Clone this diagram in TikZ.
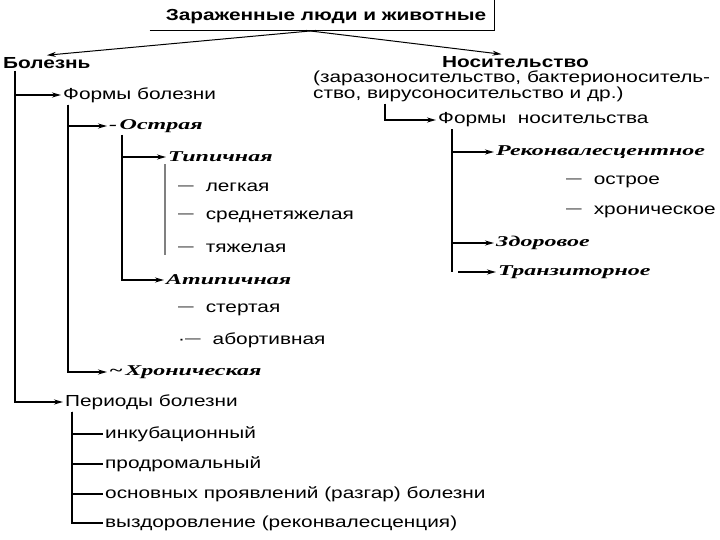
\documentclass[tikz,border=0pt]{standalone}
\usepackage{fontspec}
\setmainfont{Liberation Sans}[FakeStretch=1.3]
\newfontfamily\kursiv{Liberation Serif}[FakeStretch=1.6]
\usetikzlibrary{arrows.meta, positioning}
\newcommand\dsh{\raisebox{1.8pt}{\fontsize{12}{12}\selectfont —}\hspace{12pt}}

\begin{document}
\begin{tikzpicture}[
    x=1pt, y=-1pt, >={Stealth[length=9pt, width=5pt]},
    lbl/.style={anchor=west, inner sep=2pt, font=\fontsize{16}{16}\selectfont},
    head/.style={lbl, font=\fontsize{16}{16}\selectfont\bfseries},
    form/.style={lbl, font=\fontsize{15}{16}\selectfont\kursiv\bfseries\itshape},
    spine/.style={line width=1.5pt},
    arr/.style={spine, ->}
  ]
  \useasboundingbox (0,0) rectangle (720,540);

  \node[head, anchor=center, inner xsep=8pt, inner ysep=6pt] (title) at (326,17)
    {Зараженные люди и животные};
  \draw[line width=1pt] ([xshift=-8pt]title.south west) -- (title.south east)
    -- (title.north east |- 0,0);

  \node[head] (bolezn) at (1,63) {Болезнь};
  \node[head] (nosit) at (440,62) {Носительство};
  \draw[line width=1pt, ->] ([xshift=-10pt]title.south) -- (bolezn.north);
  \draw[line width=1pt, ->] ([xshift=-20pt]title.south) -- ([xshift=-14pt]nosit.north);
  \node[lbl, align=left] (paren) at (311,86)
    {(заразоносительство, бактерионоситель-\\ство, вирусоносительство и др.)};

  % Болезнь
  \node[lbl] (formyb) at (61,95) {Формы болезни};
  \node[form] (ostr) at (107,126) {-\,Острая};
  \node[form] (tip) at (166,157) {Типичная};
  \node[lbl] (legk) at (176,187) {\dsh легкая};
  \node[lbl] (sredn) at (176,217) {\dsh среднетяжелая};
  \node[lbl] (tyazh) at (176,248) {\dsh тяжелая};
  \node[form] (atip) at (164,280) {Атипичная};
  \node[lbl] (stert) at (176,310) {\dsh стертая};
  \node[lbl] (abort) at (176,340) {·\dsh абортивная};
  \node[form] (hron) at (107,372) {\textasciitilde\,Хроническая};
  \node[lbl] (period) at (63,402) {Периоды болезни};
  \node[lbl] (inkub) at (103,434) {инкубационный};
  \node[lbl] (prodr) at (103,464) {продромальный};
  \node[lbl] (razg) at (103,494) {основных проявлений (разгар) болезни};
  \node[lbl] (vyzd) at (103,523) {выздоровление (реконвалесценция)};

  \draw[arr] ([xshift=14pt]bolezn.south west) |- (formyb.west);
  \draw[arr] ([xshift=14pt]bolezn.south west) |- (period.west);
  \draw[arr] ([xshift=7pt]formyb.south west) |- (ostr.west);
  \draw[arr] ([xshift=7pt]formyb.south west) |- (hron.west);
  \draw[arr] ([xshift=15pt]ostr.south west) |- (tip.west);
  \draw[arr] ([xshift=15pt]ostr.south west) |- (atip.west);
  \draw[line width=1.2pt, gray] ([xshift=-1pt]tip.south west)
    -- ([xshift=-1pt]tip.south west |- tyazh.south);
  \foreach \leaf in {inkub, prodr, razg, vyzd}
    \draw[spine] ([xshift=9pt]period.south west) |- (\leaf.west);

  % Носительство
  \node[lbl] (formyn) at (436,120) {Формы\ \ носительства};
  \node[form] (rekonv) at (494,152) {Реконвалесцентное};
  \node[lbl] (ostroe) at (564,182) {\dsh острое};
  \node[lbl] (hronn) at (564,212) {\dsh хроническое};
  \node[form] (zdor) at (494,243) {Здоровое};
  \node[form] (transit) at (496,272) {Транзиторное};
  \coordinate (trs) at (458,272);

  \draw[arr] ([xshift=74pt]paren.south west) |- (formyn.west);
  \draw[arr] ([xshift=16pt]formyn.south west) |- (rekonv.west);
  \draw[arr] ([xshift=16pt]formyn.south west) |- (zdor.west);
  \draw[spine] ([xshift=16pt]formyn.south west) -- ([xshift=16pt]formyn.south west |- trs);
  \draw[arr] (trs) -- (transit.west);
\end{tikzpicture}
\end{document}
